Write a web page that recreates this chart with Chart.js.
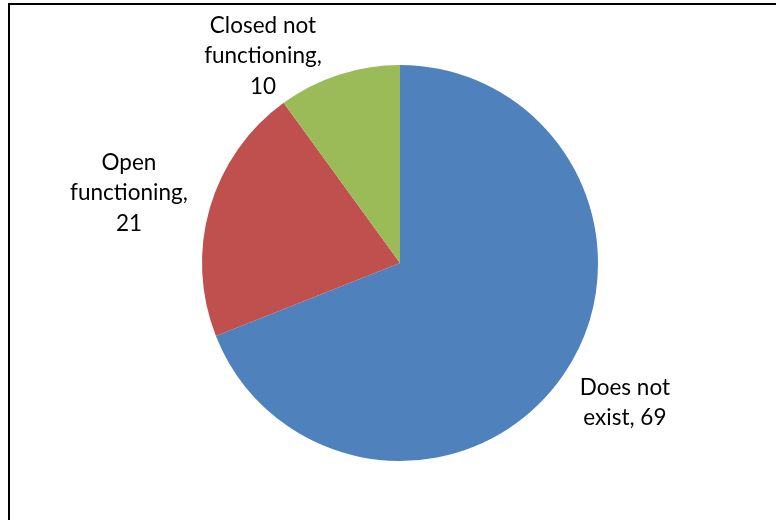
<!DOCTYPE html>
<html>
<head>
<meta charset="utf-8">
<script src="https://cdn.jsdelivr.net/npm/chart.js@4/dist/chart.umd.min.js"></script>
<style>
  html, body { margin: 0; padding: 0; background: #fff; }
  #wrap { position: relative; width: 776px; height: 520px; overflow: hidden; }
  #frame {
    position: absolute; left: 8px; top: 3px; width: 900px; height: 700px;
    border-left: 2px solid #000; border-top: 2px solid #000;
  }
  canvas { position: absolute; left: 0; top: 0; }
</style>
</head>
<body>
<div id="wrap">
  <div id="frame"></div>
  <canvas id="pieChart" width="776" height="520"></canvas>
</div>
<script>
const categories = ["Does not exist", "Open functioning", "Closed not functioning"];
const counts = [69, 21, 10];
// label lines as shown in the picture
const labelLines = [
  ["Does not", "exist, 69"],
  ["Open", "functioning,", "21"],
  ["Closed not", "functioning,", "10"],
];
const colors = ["#4F81BD", "#C0504D", "#9BBB59"];

// label placement relative to each slice: angle shift (deg) and distance (x radius)
const labelAngleShift = [-2.3, -1.7, -15.5];
const labelDistance = [1.338, 1.414, 1.254];

const outsideLabels = {
  id: "outsideLabels",
  afterDatasetsDraw(chart) {
    const ctx = chart.ctx;
    const meta = chart.getDatasetMeta(0);
    ctx.save();
    ctx.font = "22.5px Lato";
    ctx.fillStyle = "#000";
    ctx.textAlign = "center";
    ctx.textBaseline = "middle";
    meta.data.forEach((arc, i) => {
      const p = arc.getProps(["x", "y", "startAngle", "endAngle", "outerRadius"], true);
      const mid = (p.startAngle + p.endAngle) / 2 + labelAngleShift[i] * Math.PI / 180;
      const d = p.outerRadius * labelDistance[i];
      const cx = p.x + Math.cos(mid) * d;
      const cy = p.y + Math.sin(mid) * d;
      const lines = labelLines[i];
      const lh = 30.5;
      lines.forEach((t, k) => {
        ctx.fillText(t, cx, cy + (k - (lines.length - 1) / 2) * lh);
      });
    });
    ctx.restore();
  },
};

new Chart(document.getElementById("pieChart").getContext("2d"), {
  type: "pie",
  data: {
    labels: categories,
    datasets: [
      {
        data: counts,
        backgroundColor: colors,
        borderWidth: 0,
      },
    ],
  },
  options: {
    responsive: false,
    animation: false,
    layout: { padding: { left: 200, right: 176, top: 65, bottom: 59 } },
    plugins: {
      legend: { display: false },
      tooltip: { enabled: false },
    },
  },
  plugins: [outsideLabels],
});
</script>
</body>
</html>
